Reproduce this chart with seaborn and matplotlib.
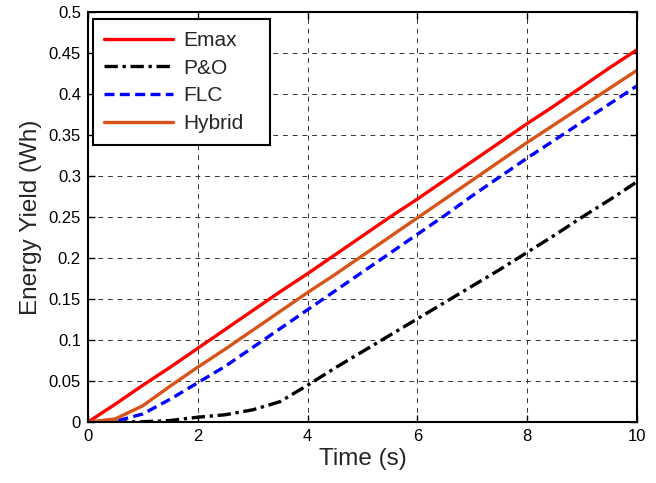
import numpy as np
import pandas as pd
import matplotlib
matplotlib.use("Agg")
import matplotlib.pyplot as plt
import seaborn as sns

time = [0, 0.5, 1, 1.5, 2, 2.5, 3, 3.5, 4, 4.5, 5, 5.5, 6, 6.5, 7, 7.5, 8, 8.5, 9, 9.5, 10]
emax = [0, 0.022, 0.045, 0.067, 0.090, 0.113, 0.136, 0.159, 0.181, 0.204, 0.227,
        0.250, 0.272, 0.295, 0.318, 0.341, 0.364, 0.386, 0.409, 0.432, 0.454]
po = [0, 0, 0.0005, 0.002, 0.006, 0.009, 0.015, 0.025, 0.045, 0.066, 0.086,
      0.106, 0.126, 0.146, 0.166, 0.186, 0.207, 0.228, 0.250, 0.271, 0.293]
flc = [0, 0.001, 0.010, 0.028, 0.048, 0.068, 0.091, 0.114, 0.137, 0.160, 0.183,
       0.206, 0.229, 0.252, 0.276, 0.299, 0.322, 0.344, 0.366, 0.388, 0.410]
hybrid = [0, 0.004, 0.020, 0.044, 0.067, 0.089, 0.112, 0.135, 0.158, 0.180, 0.203,
          0.226, 0.249, 0.272, 0.295, 0.318, 0.341, 0.363, 0.385, 0.407, 0.429]

series = {"Emax": emax, "P&O": po, "FLC": flc, "Hybrid": hybrid}
colors = {"Emax": "#ff0000", "P&O": "#000000", "FLC": "#0000ff", "Hybrid": "#d95319"}
styles = {"Emax": "-", "P&O": (0, (4, 1.4, 1, 1.4)), "FLC": (0, (3, 1.6)), "Hybrid": "-"}

sns.set_style("white")
plt.rcParams["font.family"] = ["Liberation Sans", "DejaVu Sans"]

fig = plt.figure(figsize=(6.56, 4.83), dpi=100)
ax = fig.add_axes([0.134, 0.126, 0.837, 0.849])

for name, vals in series.items():
    df = pd.DataFrame({"Time": time, "Energy": vals})
    sns.lineplot(data=df, x="Time", y="Energy", ax=ax, color=colors[name],
                 linestyle=styles[name], linewidth=2.4, label=name)

ax.set_xlim(0, 10)
ax.set_ylim(0, 0.5)
ax.set_xticks(np.arange(0, 11, 2))
ax.set_yticks(np.arange(0, 0.501, 0.05))
ax.set_yticklabels(["0", "0.05", "0.1", "0.15", "0.2", "0.25", "0.3", "0.35", "0.4", "0.45", "0.5"])
ax.grid(True, color="#333333", linestyle=(0, (5, 5)), linewidth=0.7)
ax.tick_params(direction="in", length=5, width=1, labelsize=12, colors="black",
               top=True, right=True, bottom=True, left=True, pad=5)
for s in ax.spines.values():
    s.set_color("black")
    s.set_linewidth(1.5)
ax.set_xlabel("Time (s)", fontsize=17.5, labelpad=3)
ax.set_ylabel("Energy Yield (Wh)", fontsize=17.5, labelpad=5)

leg = ax.legend(loc="upper left", bbox_to_anchor=(0.009, 0.0, 0.322, 0.982),
                mode="expand", fontsize=15, handlelength=3.3, handletextpad=0.5,
                frameon=True, fancybox=False, edgecolor="black", framealpha=1,
                borderaxespad=0.0, borderpad=0.55, labelspacing=0.42)
leg.get_frame().set_linewidth(1.5)

fig.savefig("out.png", dpi=100)
